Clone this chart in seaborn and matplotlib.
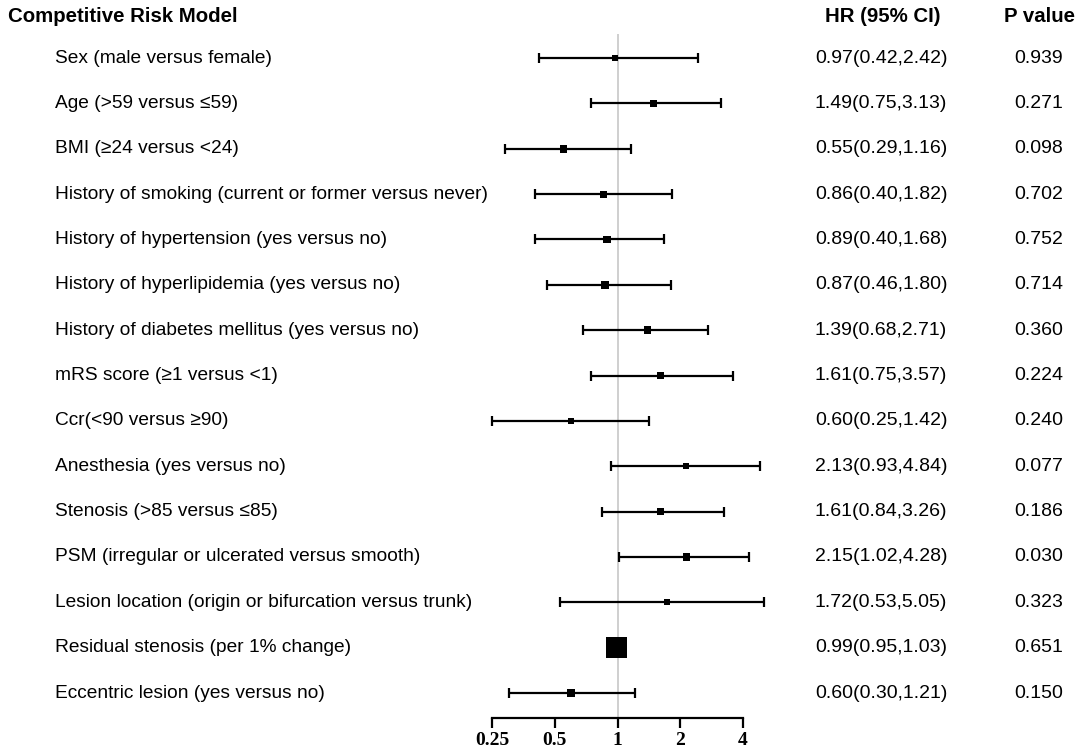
import numpy as np
import matplotlib
matplotlib.use("Agg")
import matplotlib.pyplot as plt
import matplotlib.transforms as mtransforms
import seaborn as sns

labels = [
    "Sex (male versus female)",
    "Age (>59 versus \u226459)",
    "BMI (\u226524 versus <24)",
    "History of smoking (current or former versus never)",
    "History of hypertension (yes versus no)",
    "History of hyperlipidemia (yes versus no)",
    "History of diabetes mellitus (yes versus no)",
    "mRS score (\u22651 versus <1)",
    "Ccr(<90 versus \u226590)",
    "Anesthesia (yes versus no)",
    "Stenosis (>85 versus \u226485)",
    "PSM (irregular or ulcerated versus smooth)",
    "Lesion location (origin or bifurcation versus trunk)",
    "Residual stenosis (per 1% change)",
    "Eccentric lesion (yes versus no)",
]
hr = [0.97, 1.49, 0.55, 0.86, 0.89, 0.87, 1.39, 1.61, 0.60, 2.13, 1.61, 2.15, 1.72, 0.99, 0.60]
lower = [0.42, 0.75, 0.29, 0.40, 0.40, 0.46, 0.68, 0.75, 0.25, 0.93, 0.84, 1.02, 0.53, 0.95, 0.30]
upper = [2.42, 3.13, 1.16, 1.82, 1.68, 1.80, 2.71, 3.57, 1.42, 4.84, 3.26, 4.28, 5.05, 1.03, 1.21]
pvals = ["0.939", "0.271", "0.098", "0.702", "0.752", "0.714", "0.360", "0.224",
         "0.240", "0.077", "0.186", "0.030", "0.323", "0.651", "0.150"]
xticks = [0.25, 0.5, 1, 2, 4]
xticklabels = ["0.25", "0.5", "1", "2", "4"]

sns.set_style("white")
plt.rcParams["font.family"] = ["Liberation Sans", "DejaVu Sans"]
plt.rcParams["text.color"] = "black"
plt.rcParams["xtick.color"] = "black"

W, H = 1084, 752
fig = plt.figure(figsize=(W / 100, H / 100), dpi=100)
ax = fig.add_axes([492 / W, 1 - 718 / H, (743 - 492) / W, (718 - 34) / H])

hr_a = np.array(hr)
lo_a = np.array(lower)
hi_a = np.array(upper)
rows = np.arange(len(labels))

# box size shrinks with CI width (inverse-variance style), clipped
side_px = np.clip(10.5 / np.log(hi_a / lo_a), 6, 21)
sizes = (side_px * 0.72) ** 2

ax.axvline(1, color="#cccccc", lw=1.3, zorder=0)
ax.errorbar(hr_a, rows, xerr=[hr_a - lo_a, hi_a - hr_a], fmt="none",
            ecolor="black", elinewidth=1.6, capsize=3.6, capthick=1.6,
            clip_on=False, zorder=2)
sns.scatterplot(x=hr_a, y=rows, marker="s", s=sizes, color="black",
                linewidth=0, ax=ax, zorder=3, clip_on=False, legend=False)

ax.set_xscale("log", base=2)
ax.set_xlim(0.25, 4)
ax.set_ylim(14.55, -0.53)
ax.set_xticks(xticks)
ax.set_xticklabels(xticklabels, fontfamily="Liberation Serif",
                   fontweight="bold", fontsize=14, color="black")
ax.xaxis.set_minor_locator(matplotlib.ticker.NullLocator())
ax.set_yticks([])
ax.tick_params(axis="x", direction="out", length=7, width=1.6, pad=3,
               color="black", bottom=True)
for side in ["top", "right", "left"]:
    ax.spines[side].set_visible(False)
ax.spines["bottom"].set_linewidth(1.6)
ax.spines["bottom"].set_color("black")
ax.set_xlabel("")
ax.set_ylabel("")
ax.patch.set_alpha(0)

trans = mtransforms.blended_transform_factory(fig.transFigure, ax.transData)
for i in rows:
    ax.text(55 / W, i, labels[i], transform=trans, ha="left", va="center",
            fontsize=13.8, color="black")
    ax.text(881 / W, i, f"{hr[i]:.2f}({lower[i]:.2f},{upper[i]:.2f})",
            transform=trans, ha="center", va="center", fontsize=14,
            color="black")
    ax.text(1039 / W, i, pvals[i], transform=trans, ha="center", va="center",
            fontsize=14, color="black")

fig.text(8 / W, 1 - 16 / H, "Competitive Risk Model", ha="left", va="center",
         fontsize=14.7, fontweight="bold", color="black")
fig.text(883 / W, 1 - 16 / H, "HR (95% CI)", ha="center", va="center",
         fontsize=14.7, fontweight="bold", color="black")
fig.text(1040 / W, 1 - 16 / H, "P value", ha="center", va="center",
         fontsize=14.7, fontweight="bold", color="black")

fig.savefig("out.png", dpi=100)
